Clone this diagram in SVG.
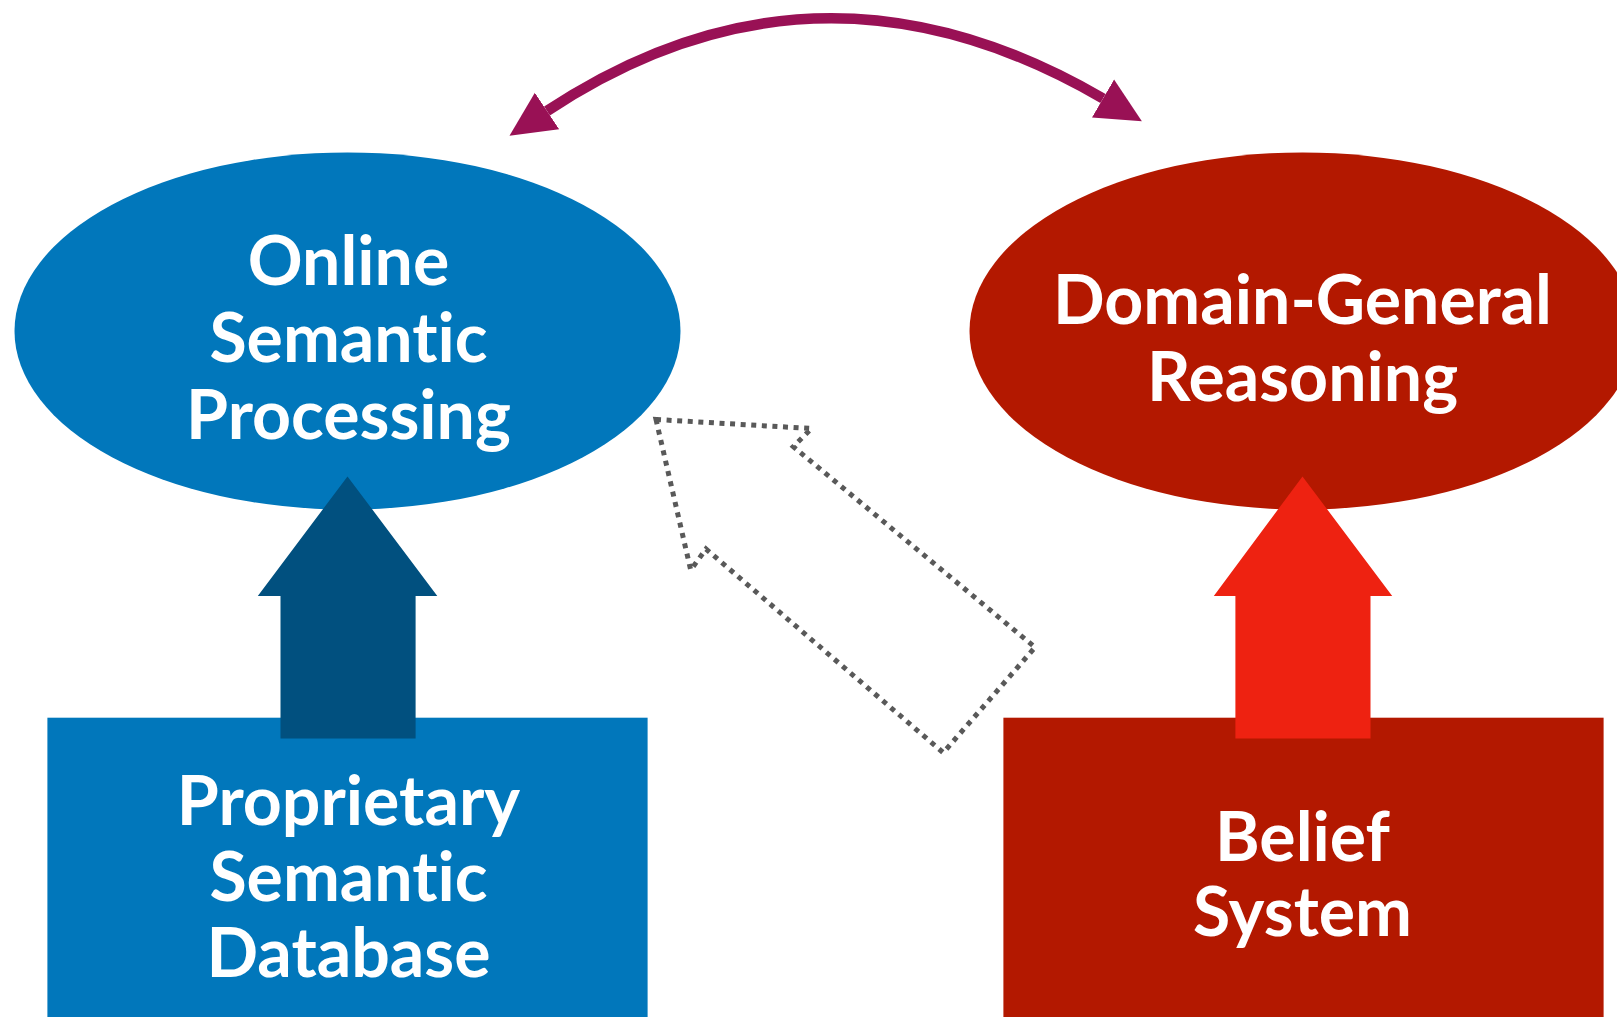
<svg xmlns="http://www.w3.org/2000/svg" width="1617" height="1017" viewBox="0 0 1617 1017">
  <style>
    .label { font-family: Lato, "Open Sans", "Liberation Sans", sans-serif; font-weight: 700; font-size: 68px; fill: #ffffff; text-anchor: middle; font-variant-ligatures: none; }
    .blue { fill: #0177bb; }
    .red { fill: #b31800; }
    .curve { fill: none; stroke: #991155; stroke-width: 10.5; }
    .dotted { fill: none; stroke: #595959; stroke-width: 5; stroke-dasharray: 5 5.6; stroke-linejoin: miter; }
  </style>
  <defs>
    <marker id="head" markerUnits="userSpaceOnUse" markerWidth="46" markerHeight="46" refX="0" refY="22" orient="auto-start-reverse" viewBox="0 0 46 44">
      <path d="M0,0 L45,22 L0,44 Z" fill="#991155"/>
    </marker>
  </defs>
  <rect width="1617" height="1017" fill="#ffffff"/>

  <!-- upper processes -->
  <g id="online-semantic-processing">
    <ellipse class="blue" cx="347.5" cy="331" rx="333" ry="178.5"/>
    <text class="label" x="348.5" y="284.5">Online</text>
    <text class="label" x="348.5" y="361.5">Semantic</text>
    <text class="label" x="348.5" y="438.5">Processing</text>
  </g>
  <g id="domain-general-reasoning">
    <ellipse class="red" cx="1302.5" cy="331" rx="333" ry="178.5"/>
    <text class="label" x="1302.5" y="323.5">Domain-General</text>
    <text class="label" x="1302.5" y="400.5">Reasoning</text>
  </g>

  <!-- underlying stores -->
  <g id="proprietary-semantic-database">
    <rect class="blue" x="47.4" y="717.7" width="600.2" height="300"/>
    <text class="label" x="348.5" y="825">Proprietary</text>
    <text class="label" x="348.5" y="901">Semantic</text>
    <text class="label" x="348.5" y="976.5">Database</text>
  </g>
  <g id="belief-system">
    <rect class="red" x="1003.4" y="717.7" width="600.2" height="300"/>
    <text class="label" x="1302.5" y="861">Belief</text>
    <text class="label" x="1302.5" y="936">System</text>
  </g>

  <g id="connectors">
    <!-- block arrows feeding each store into its process -->
    <polygon fill="#01507f" points="347.5,476.4 437.3,596 415.6,596 415.6,738.4 280.5,738.4 280.5,596 257.8,596"/>
    <polygon fill="#ee2211" points="1302.5,476.4 1392.2,596 1370.5,596 1370.5,738.4 1235.4,738.4 1235.4,596 1213.8,596"/>
    <!-- dotted outline arrow: belief system toward semantic processing -->
    <polygon class="dotted" points="656,419.5 811.5,428.5 793.3,446.7 1035,647.3 943.3,752.7 706,549 690.7,570"/>
    <!-- two-way interaction between the processes -->
    <path class="curve" d="M547,111 Q817.2,-68 1103,98.5" marker-start="url(#head)" marker-end="url(#head)"/>
  </g>
</svg>
